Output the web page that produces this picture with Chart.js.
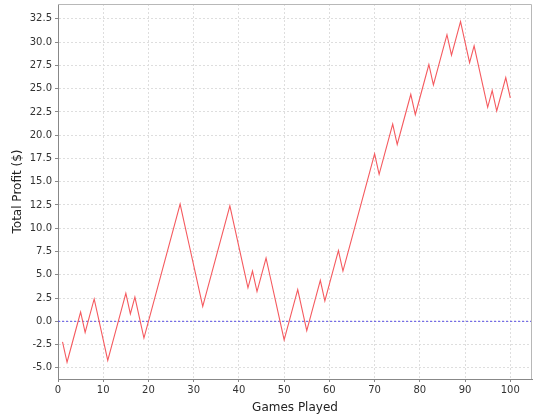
<!DOCTYPE html>
<html lang="en">
<head>
    <meta charset="UTF-8">
    <script src="https://cdn.jsdelivr.net/npm/chart.js"></script>
    <title>Total Profit</title>
    <style>
        body { margin: 0; background: #ffffff; }
    </style>
</head>
<body>
    <canvas id="grafico" width="540" height="420"></canvas>

<script>

    // games 1..100
    var jogos = [];
    for (var i = 1; i <= 100; i++) jogos.push(i);

    var lucro = [
        -2.2, -4.4, -2.6, -0.8, 1.0, -1.2, 0.6, 2.4, 0.2, -2.0,
        -4.2, -2.4, -0.6, 1.2, 3.0, 0.8, 2.6, 0.4, -1.8, 0.0,
        1.8, 3.6, 5.4, 7.2, 9.0, 10.8, 12.6, 10.4, 8.2, 6.0,
        3.8, 1.6, 3.4, 5.2, 7.0, 8.8, 10.6, 12.4, 10.2, 8.0,
        5.8, 3.6, 5.4, 3.2, 5.0, 6.8, 4.6, 2.4, 0.2, -2.0,
        -0.2, 1.6, 3.4, 1.2, -1.0, 0.8, 2.6, 4.4, 2.2, 4.0,
        5.8, 7.6, 5.4, 7.2, 9.0, 10.8, 12.6, 14.4, 16.2, 18.0,
        15.8, 17.6, 19.4, 21.2, 19.0, 20.8, 22.6, 24.4, 22.2, 24.0,
        25.8, 27.6, 25.4, 27.2, 29.0, 30.8, 28.6, 30.4, 32.2, 30.0,
        27.8, 29.6, 27.4, 25.2, 23.0, 24.8, 22.6, 24.4, 26.2, 24.0
    ];

    var ticksX = [0, 10, 20, 30, 40, 50, 60, 70, 80, 90, 100];
    var ticksY = [-5.0, -2.5, 0.0, 2.5, 5.0, 7.5, 10.0, 12.5, 15.0, 17.5, 20.0, 22.5, 25.0, 27.5, 30.0, 32.5];

    var limiteX = [0, 104.8];
    var limiteY = [-6.2, 34.1];

    var pontos = jogos.map(function (g, i) { return { x: g, y: lucro[i] }; });
    var linhaZero = [{ x: limiteX[0], y: 0 }, { x: limiteX[1], y: 0 }];

    // outline around the plot area (top and right sides)
    var moldura = {
        id: 'moldura',
        afterDraw: function (chart) {
            var a = chart.chartArea;
            var c = chart.ctx;
            c.save();
            c.strokeStyle = '#b8b8b8';
            c.lineWidth = 1;
            c.beginPath();
            c.moveTo(a.left, a.top + 0.5);
            c.lineTo(a.right - 0.5, a.top + 0.5);
            c.lineTo(a.right - 0.5, a.bottom);
            c.stroke();
            c.restore();
        }
    };

    const ctx = document.getElementById('grafico');

    new Chart(ctx, {
        type: 'line',
        data: {
            datasets: [{
                label: 'zero',
                data: linhaZero,
                borderColor: 'rgb(90, 80, 230)',
                borderWidth: 1,
                borderDash: [2, 2],
                pointRadius: 0,
                order: 2
            },
            {
                label: 'Total Profit',
                data: pontos,
                borderColor: 'rgb(245, 90, 95)',
                borderWidth: 1.1,
                pointRadius: 0,
                tension: 0,
                order: 1
            }]
        },
        options: {
            responsive: false,
            animation: false,
            devicePixelRatio: 1,
            layout: { padding: { left: 0, top: 4, right: 8, bottom: 0 } },
            plugins: {
                legend: { display: false },
                tooltip: { enabled: false }
            },
            scales: {
                x: {
                    type: 'linear',
                    min: limiteX[0],
                    max: limiteX[1],
                    afterBuildTicks: function (s) { s.ticks = ticksX.map(function (v) { return { value: v }; }); },
                    afterFit: function (s) { s.height = 41; },
                    ticks: {
                        color: '#333',
                        font: { family: 'DejaVu Sans', size: 10 },
                        padding: 2,
                        maxRotation: 0
                    },
                    grid: {
                        color: '#dedede',
                        tickLength: 3,
                        tickColor: '#888',
                        tickBorderDash: []
                    },
                    border: { color: '#888', width: 1, dash: [2, 2] },
                    title: {
                        display: true,
                        text: 'Games Played',
                        color: '#222',
                        font: { family: 'DejaVu Sans', size: 12 },
                        padding: { top: 2, bottom: 5 }
                    }
                },
                y: {
                    type: 'linear',
                    min: limiteY[0],
                    max: limiteY[1],
                    afterBuildTicks: function (s) { s.ticks = ticksY.map(function (v) { return { value: v }; }); },
                    afterFit: function (s) { s.width = 58; s.paddingTop = 0; s.paddingBottom = 0; },
                    ticks: {
                        color: '#333',
                        font: { family: 'DejaVu Sans', size: 10 },
                        padding: 3,
                        callback: function (v) { return v.toFixed(1); }
                    },
                    grid: {
                        color: '#dedede',
                        tickLength: 3,
                        tickColor: '#888',
                        tickBorderDash: []
                    },
                    border: { color: '#888', width: 1, dash: [2, 2] },
                    title: {
                        display: true,
                        text: 'Total Profit ($)',
                        color: '#222',
                        font: { family: 'DejaVu Sans', size: 12 },
                        padding: { top: 11, bottom: 2 }
                    }
                }
            }
        },
        plugins: [moldura]
    });
</script>
</body>
</html>
